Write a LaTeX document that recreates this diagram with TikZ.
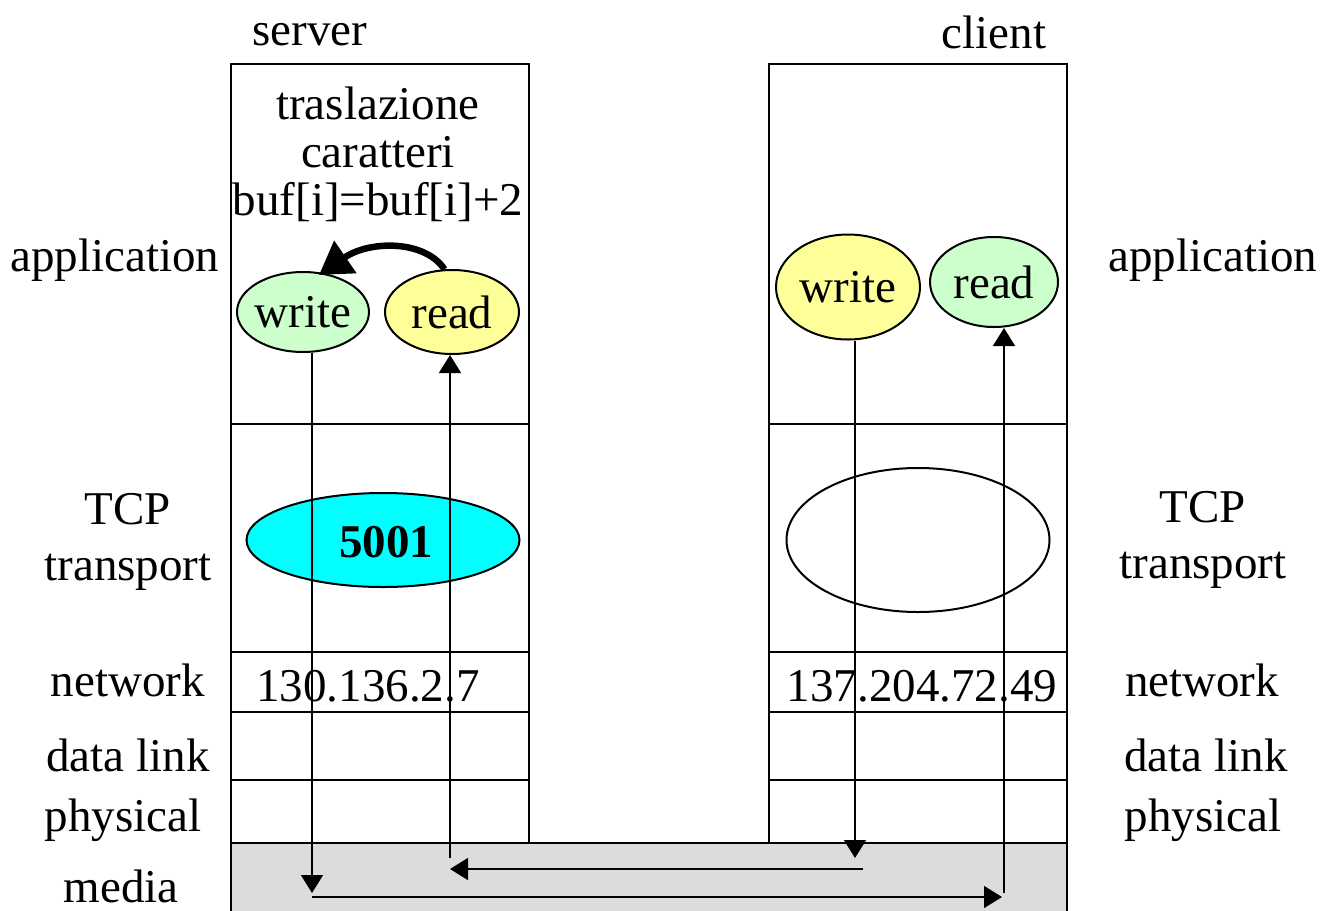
\documentclass[tikz,border=0pt]{standalone}
\usepackage{fontspec}
\setmainfont{Liberation Serif}
\usepackage{tikz}
\usetikzlibrary{positioning}
\usetikzlibrary{shapes.geometric,arrows.meta}

\definecolor{lgreen}{HTML}{CCFFCC}
\definecolor{lyellow}{HTML}{FFFF99}
\definecolor{lcyan}{HTML}{00FFFF}
\definecolor{lgray}{HTML}{DCDCDC}

\begin{document}
\begin{tikzpicture}[x=1pt,y=-1pt,font=\fontsize{47}{48}\selectfont,
    >={Triangle[length=18pt,width=22pt]},
    lbl/.style={inner sep=0pt},
    sock/.style={ellipse,draw,line width=2pt,inner sep=0pt},
    layer/.style={line width=2pt},
    flow/.style={line width=1.5pt,->}]
    \useasboundingbox (0,0) rectangle (1337,910);

    % media
    \fill[lgray] (231,843) rectangle (1067,915);
    \draw[layer] (231,915) -- (231,843) -- (1067,843) -- (1067,915);

    % the two stacks
    \foreach \x in {231,769} {
        \draw[layer] (\x,64) rectangle (\x+298,843);
        \foreach \y in {424,652,712,780}
            \draw[layer] (\x,\y) -- (\x+298,\y);
    }

    \node[lbl] (S) at (310,35) {server};
    \node[lbl] (C) at (994,32) {client};

    % layer names
    \node[lbl] (LA) at (115,260) {application};
    \node[lbl,align=center,font=\fontsize{47}{56}\selectfont] (LT) at (128,542) {TCP\\transport};
    \node[lbl] (LN) at (128,680) {network};
    \node[lbl] (LD) at (128,755) {data link};
    \node[lbl] (LP) at (123,820) {physical};
    \node[lbl] (LM) at (121,886) {media};
    \node[lbl] (RA) at (1213,260) {application};
    \node[lbl,align=center,font=\fontsize{47}{56}\selectfont] (RT) at (1203,540) {TCP\\transport};
    \node[lbl] (RN) at (1202,680) {network};
    \node[lbl] (RD) at (1206,755) {data link};
    \node[lbl] (RP) at (1203,820) {physical};

    % server
    \node[lbl,align=center] (TR) at (378,154) {traslazione\\caratteri\\buf[i]=buf[i]+2};
    \node[sock,fill=lgreen,minimum width=132pt,minimum height=80pt] (SW) at (303,312) {\makebox[0pt]{write}};
    \node[sock,fill=lyellow,minimum width=134pt,minimum height=84pt] (SR) at (452,312) {\makebox[0pt]{read}};
    \node[sock,fill=lcyan,minimum width=273pt,minimum height=94pt] (ST) at (383,540) {};
    \node[lbl] (SP) at (386,542) {\bfseries 5001};
    \node[lbl] (SI) at (368,686) {130.136.2.7};

    % client
    \node[sock,fill=lyellow,minimum width=144pt,minimum height=105pt] (CW) at (848,287) {\makebox[0pt]{write}};
    \node[sock,fill=lgreen,minimum width=128pt,minimum height=90pt] (CR) at (994,282) {\makebox[0pt]{read}};
    \node[sock,minimum width=263pt,minimum height=144pt] (CT) at (918,540) {};
    \node[lbl] (CI) at (922,686) {137.204.72.49};

    \draw[line width=6.5pt,-{Triangle[length=32pt,width=38pt]}]
        (SR.100) .. controls (425,240) and (370,240) .. (319,275);

    % data path
    \coordinate (A) at (312,893);
    \coordinate (B) at (312,897);
    \coordinate (Bq) at (1002,897);
    \coordinate (D) at (1004,893);
    \coordinate (E) at (855,858);
    \coordinate (F) at (863,869);
    \coordinate (G) at (450,869);
    \coordinate (H) at (450,858);
    \draw[flow] (SW.south -| A) -- (A);
    \draw[flow] (B) -- (Bq);
    \draw[flow] (D) -- (D |- CR.south);
    \draw[flow] (CW.south -| E) -- (E);
    \draw[flow] (F) -- (G);
    \draw[flow] (H) -- (H |- SR.south);
\end{tikzpicture}
\end{document}
